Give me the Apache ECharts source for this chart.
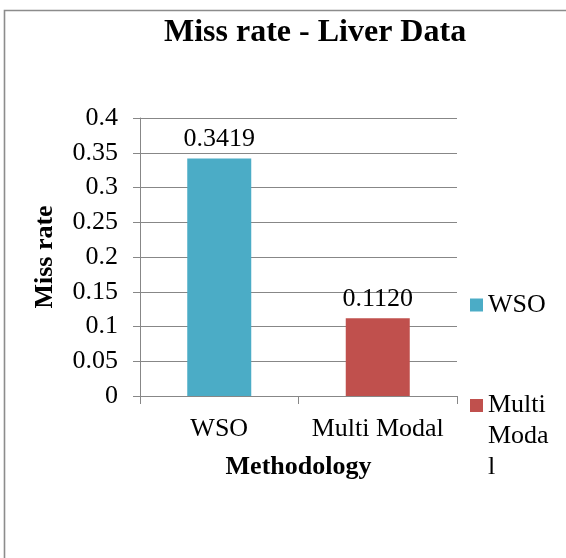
<!DOCTYPE html>
<html>
<head>
<meta charset="utf-8">
<script src="https://cdn.jsdelivr.net/npm/echarts@6/dist/echarts.min.js"></script>
<style>
html,body{margin:0;padding:0;background:#fff;}
#c{width:566px;height:558px;}
</style>
</head>
<body>
<div id="c"></div>
<script>
const categories = ['WSO', 'Multi Modal'];
const seriesNames = ['WSO', 'Multi Modal'];
const wsoValues = [0.3419, '-'];
const multiModalValues = ['-', 0.1120];
const yTickLabels = ['0', '0.05', '0.1', '0.15', '0.2', '0.25', '0.3', '0.35', '0.4'];
const titleText = 'Miss rate - Liver Data';
const xAxisTitle = 'Methodology';
const yAxisTitle = 'Miss rate';

const FONT = "'Liberation Serif', 'Times New Roman', serif";
const GRAY = '#878787';
const chart = echarts.init(document.getElementById('c'), null, {renderer: 'canvas'});

const labelOpt = {
  show: true, position: 'top', distance: 6,
  color: '#000', fontFamily: FONT, fontSize: 26,
  formatter: p => Number(p.value).toFixed(4)
};

chart.setOption({
  animation: false,
  backgroundColor: '#fff',
  title: {
    text: titleText, left: 164, top: 17, padding: 0,
    textStyle: {fontFamily: FONT, fontSize: 32, fontWeight: 'bold', color: '#000'}
  },
  graphic: [{
    type: 'rect', z: -1, silent: true,
    shape: {x: 4.5, y: 10.5, width: 600, height: 600},
    style: {fill: 'none', stroke: '#8c8c8c', lineWidth: 1.6}
  }],
  legend: [{
    data: [seriesNames[0]], orient: 'vertical', left: 470, top: 292, padding: 0,
    itemWidth: 13, itemHeight: 13, itemGap: 0, itemTextGap: 3, icon: 'rect',
    textStyle: {fontFamily: FONT, fontSize: 26, color: '#000'}
  }, {
    data: [seriesNames[1]], orient: 'vertical', left: 470, top: 328, padding: 0,
    itemWidth: 13, itemHeight: 13, itemGap: 0, itemTextGap: 3, icon: 'rect',
    formatter: () => '\n\nMulti\nModa\nl',
    textStyle: {fontFamily: FONT, fontSize: 26, color: '#000', lineHeight: 31}
  }],
  grid: {left: 140, right: 109, top: 118, bottom: 162},
  xAxis: {
    type: 'category', data: categories,
    name: xAxisTitle, nameLocation: 'middle', nameGap: 58,
    nameTextStyle: {fontFamily: FONT, fontSize: 26, fontWeight: 'bold', color: '#000'},
    axisLine: {lineStyle: {color: GRAY, width: 1}},
    axisTick: {show: true, length: 8, lineStyle: {color: GRAY}},
    axisLabel: {fontFamily: FONT, fontSize: 26, color: '#000', margin: 20,
      interval: 0, hideOverlap: false}
  },
  yAxis: {
    type: 'value', min: 0, max: 0.4, interval: 0.05,
    name: yAxisTitle, nameLocation: 'middle', nameGap: 82,
    nameTextStyle: {fontFamily: FONT, fontSize: 26, fontWeight: 'bold', color: '#000'},
    axisLine: {show: true, lineStyle: {color: GRAY, width: 1}},
    axisTick: {show: true, length: 7, lineStyle: {color: GRAY}},
    splitLine: {show: true, lineStyle: {color: GRAY, width: 1}},
    axisLabel: {fontFamily: FONT, fontSize: 26, color: '#000', margin: 22,
      formatter: (v, i) => yTickLabels[i]}
  },
  series: [{
    name: seriesNames[0], type: 'bar', data: wsoValues,
    barWidth: 64, barGap: '-100%',
    itemStyle: {color: '#4BACC6'}, label: labelOpt
  }, {
    name: seriesNames[1], type: 'bar', data: multiModalValues,
    barWidth: 64, barGap: '-100%',
    itemStyle: {color: '#C0504D'}, label: labelOpt
  }]
});
</script>
</body>
</html>
